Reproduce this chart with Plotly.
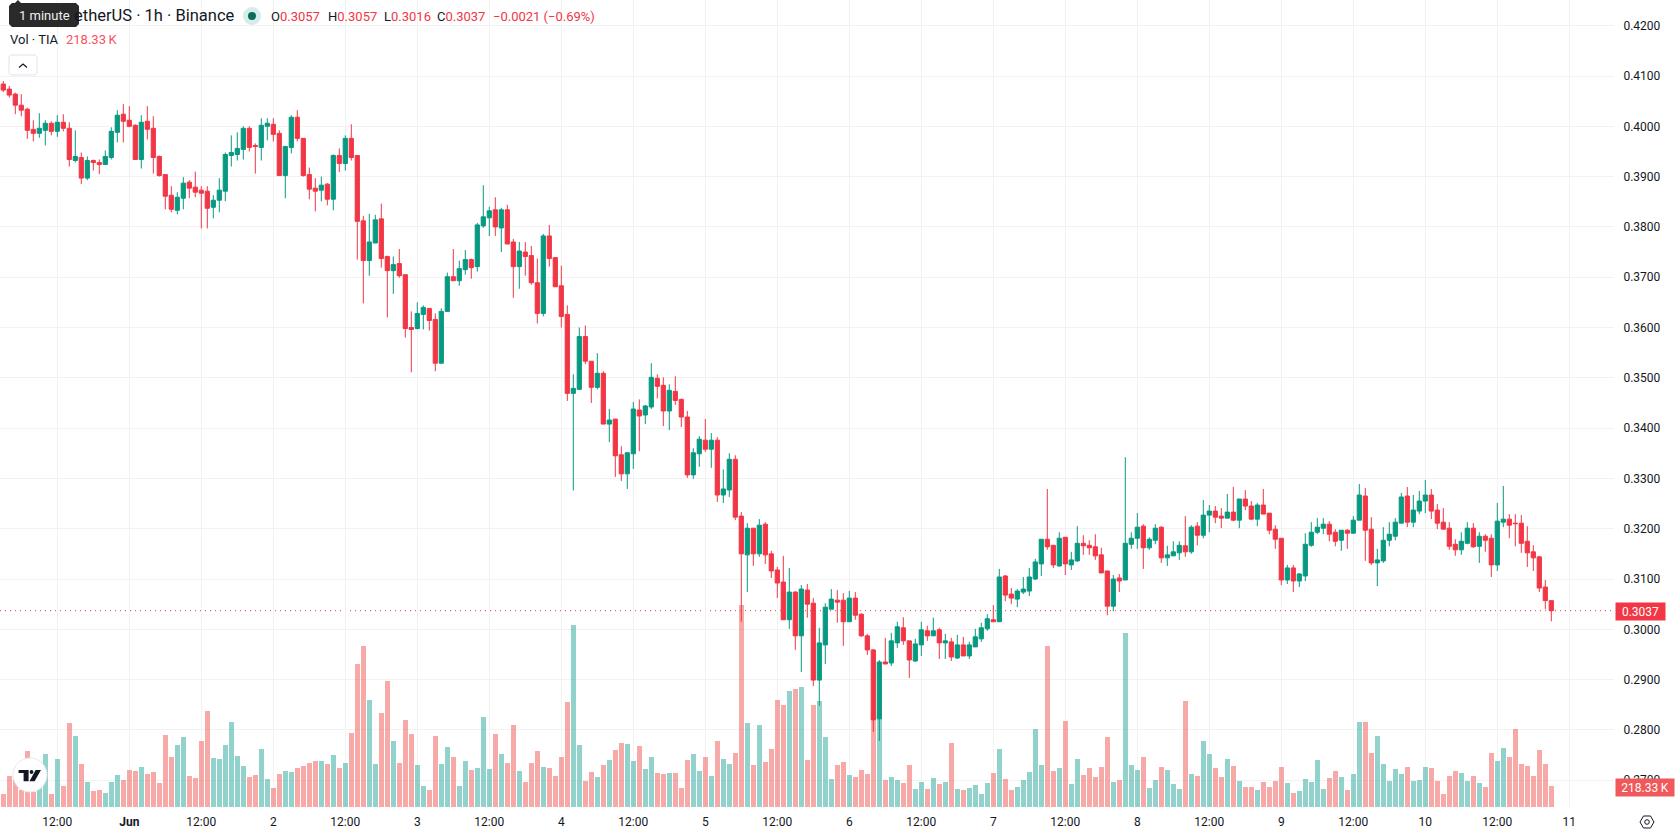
import pandas as pd
import plotly.graph_objects as go

# Hourly TIA/USDT prices, in units of the 0.0001 tick size
TICK_SIZE = 0.0001

open_ticks = [
    4084,4074,4064,4042,4034,3994,3986,3992,4006,3990,
    4008,3996,3932,3938,3897,3932,3928,3924,3938,3988,
    4024,4012,4002,3934,4010,3996,3940,3904,3863,3833,
    3857,3889,3879,3873,3871,3839,3853,3871,3942,3944,
    3954,3996,3962,3958,4000,4004,3986,3902,3958,4018,
    3976,3904,3877,3873,3885,3855,3942,3926,3976,3942,
    3812,3733,3768,3816,3741,3713,3727,3705,3600,3598,
    3626,3638,3616,3529,3632,3701,3693,3715,3735,3721,
    3802,3818,3834,3798,3834,3770,3721,3750,3743,3689,
    3628,3782,3739,3683,3626,3469,3477,3582,3533,3481,
    3509,3408,3418,3347,3309,3349,3436,3426,3442,3499,
    3485,3434,3473,3457,3422,3307,3349,3376,3358,3376,
    3267,3277,3338,3225,3148,3201,3150,3209,3150,3118,
    3094,3019,3074,2987,3078,3052,2899,2969,3040,3058,
    3058,3015,3062,3030,2987,2959,2822,2935,2933,2973,
    3003,2977,2937,2969,2997,2987,2999,2973,2975,2943,
    2969,2947,2965,2981,3001,3019,3015,3106,3070,3060,
    3074,3076,3100,3130,3179,3167,3126,3183,3128,3136,
    3171,3167,3164,3148,3116,3046,3102,3098,3169,3181,
    3205,3162,3177,3203,3142,3146,3152,3166,3154,3205,
    3187,3227,3235,3225,3221,3233,3217,3259,3245,3219,
    3247,3231,3199,3181,3098,3122,3096,3106,3167,3193,
    3201,3209,3193,3177,3197,3191,3217,3265,3199,3132,
    3136,3177,3185,3211,3265,3213,3235,3255,3267,3237,
    3213,3201,3169,3158,3171,3201,3165,3185,3181,3128,
    3213,3219,3211,3211,3175,3154,3144,3084,3057,
]
high_ticks = [
    4090,4080,4067,4064,4037,4012,4026,4012,4010,4022,
    4024,4008,3992,3948,3940,3934,3934,3952,3998,4032,
    4044,4040,4004,4022,4040,4020,3942,3904,3881,3869,
    3899,3893,3910,3881,3881,3863,3897,3948,3982,3988,
    4000,4000,3966,4016,4016,4016,3992,3960,4022,4032,
    3976,3918,3897,3900,3887,3944,3956,3982,4004,3942,
    3822,3826,3824,3846,3743,3741,3756,3705,3632,3650,
    3644,3638,3628,3638,3709,3756,3733,3754,3737,3808,
    3883,3840,3859,3838,3844,3776,3770,3770,3762,3737,
    3786,3804,3739,3723,3644,3507,3600,3604,3533,3549,
    3513,3438,3418,3364,3351,3452,3457,3446,3529,3507,
    3501,3487,3503,3459,3434,3360,3384,3418,3390,3382,
    3318,3350,3346,3233,3211,3201,3219,3213,3156,3124,
    3146,3122,3076,3088,3090,3062,3003,3052,3080,3078,
    3072,3076,3074,3032,2991,2961,2939,2983,2993,3015,
    3024,2977,2981,3015,3007,3023,3003,2991,2983,2989,
    2985,2975,3001,3013,3030,3048,3120,3108,3082,3080,
    3104,3122,3140,3179,3279,3167,3193,3183,3154,3205,
    3187,3177,3189,3162,3116,3108,3110,3342,3193,3231,
    3209,3183,3209,3205,3166,3175,3175,3225,3207,3213,
    3257,3247,3245,3241,3269,3283,3259,3277,3255,3251,
    3279,3231,3207,3181,3128,3128,3112,3191,3213,3221,
    3221,3215,3199,3197,3199,3225,3289,3281,3223,3160,
    3203,3213,3221,3271,3283,3267,3275,3297,3279,3249,
    3241,3213,3179,3193,3213,3211,3193,3189,3189,3251,
    3285,3229,3229,3227,3205,3167,3146,3098,3057,
]
low_ticks = [
    4068,4057,4024,4020,3975,3970,3977,3962,3982,3979,
    3990,3920,3928,3885,3893,3912,3905,3924,3934,3968,
    3968,3998,3934,3916,3974,3906,3900,3835,3829,3825,
    3835,3857,3859,3797,3797,3817,3829,3851,3920,3932,
    3934,3950,3906,3932,3972,3970,3902,3857,3946,3970,
    3900,3855,3831,3851,3843,3833,3909,3912,3932,3735,
    3648,3703,3768,3719,3620,3667,3699,3580,3511,3596,
    3596,3594,3513,3529,3632,3693,3683,3705,3697,3711,
    3798,3782,3782,3750,3766,3659,3677,3703,3685,3608,
    3622,3721,3681,3600,3454,3276,3477,3527,3450,3477,
    3408,3372,3303,3295,3279,3319,3354,3408,3438,3459,
    3404,3396,3446,3402,3301,3299,3323,3353,3321,3253,
    3251,3263,3217,3015,3074,3126,3144,3130,3102,3062,
    3019,3001,2959,2915,3023,2887,2848,2931,3040,3013,
    2967,3015,3019,2985,2949,2796,2778,2931,2927,2963,
    2969,2903,2935,2947,2977,2987,2941,2941,2937,2941,
    2947,2941,2965,2975,2997,3015,3015,3056,3050,3044,
    3070,3066,3098,3106,3158,3122,3124,3108,3118,3134,
    3148,3148,3138,3112,3028,3036,3074,3098,3160,3160,
    3120,3158,3169,3132,3126,3146,3138,3144,3150,3167,
    3181,3193,3211,3201,3221,3215,3201,3237,3217,3205,
    3229,3189,3160,3088,3090,3074,3084,3096,3164,3189,
    3189,3175,3165,3156,3160,3191,3217,3136,3128,3086,
    3132,3165,3177,3211,3203,3203,3229,3231,3219,3199,
    3199,3158,3146,3148,3169,3162,3132,3154,3104,3116,
    3203,3181,3165,3152,3124,3116,3074,3040,3016,
]
close_ticks = [
    4072,4062,4042,4032,3992,3986,3996,4006,3990,4008,
    3996,3934,3940,3897,3932,3928,3924,3940,3990,4022,
    4010,4000,3934,4008,3994,3938,3902,3861,3835,3859,
    3887,3877,3869,3867,3837,3853,3873,3944,3948,3956,
    3996,3958,3960,4002,4006,3984,3902,3960,4018,3976,
    3902,3875,3871,3883,3855,3942,3926,3976,3938,3811,
    3733,3770,3814,3737,3713,3725,3703,3598,3596,3628,
    3640,3614,3529,3632,3701,3693,3717,3735,3719,3804,
    3820,3832,3800,3834,3766,3721,3752,3741,3689,3628,
    3782,3737,3681,3622,3469,3479,3582,3533,3481,3509,
    3408,3416,3345,3309,3351,3438,3424,3444,3501,3483,
    3434,3475,3455,3422,3307,3351,3378,3358,3376,3267,
    3279,3338,3223,3150,3201,3150,3207,3148,3116,3092,
    3019,3074,2987,3080,3050,2899,2973,3044,3060,3054,
    3015,3062,3028,2987,2959,2820,2935,2931,2977,3005,
    2977,2939,2971,2999,2987,2997,2973,2977,2945,2969,
    2947,2969,2985,3003,3021,3015,3104,3068,3062,3076,
    3080,3104,3134,3179,3164,3128,3181,3130,3138,3171,
    3166,3162,3146,3112,3046,3100,3096,3171,3181,3203,
    3162,3179,3201,3142,3148,3154,3167,3154,3203,3187,
    3227,3235,3223,3221,3233,3217,3259,3245,3219,3247,
    3229,3197,3179,3098,3122,3096,3110,3169,3193,3203,
    3209,3189,3175,3197,3191,3217,3267,3197,3132,3138,
    3177,3189,3213,3263,3213,3237,3255,3267,3235,3211,
    3199,3165,3158,3175,3201,3164,3185,3177,3128,3215,
    3219,3207,3210,3171,3152,3142,3082,3057,3037,
]
# Volume per hour, thousands of TIA
volume_k = [
    135,322,281,177,582,156,333,551,135,499,
    218,873,738,447,260,166,177,146,260,333,
    281,385,374,416,343,364,250,749,520,645,
    728,322,302,686,998,510,499,645,884,530,
    426,312,333,603,291,198,343,374,364,406,
    426,458,478,478,447,541,406,458,769,1487,
    1674,1113,447,977,1310,686,458,905,759,437,
    218,177,738,447,624,520,218,478,385,406,
    936,395,759,551,458,853,374,260,458,582,
    416,406,322,520,1092,1892,645,270,364,312,
    437,489,593,665,655,478,634,395,520,354,
    343,354,354,198,489,551,374,520,322,686,
    499,447,561,2100,873,437,853,468,603,1113,
    1061,1206,1227,1248,489,1061,1102,728,291,437,
    468,333,312,385,343,974,974,281,312,281,
    250,437,187,260,187,302,239,260,665,187,
    177,198,229,135,250,354,603,291,177,208,
    281,364,811,437,1674,374,406,894,239,499,
    333,406,312,416,728,260,281,1809,437,385,
    520,198,281,416,385,239,187,1102,343,322,
    686,551,406,312,499,426,270,208,208,177,
    260,208,270,416,250,146,166,291,260,489,
    187,302,374,312,177,343,884,884,561,738,
    447,270,395,343,416,270,281,416,406,270,
    135,322,374,354,270,322,250,208,561,478,
    613,520,811,447,426,322,593,447,218.33,
]

first_bar = pd.Timestamp("2026-05-31 03:00")
times = pd.date_range(first_bar, periods=len(close_ticks), freq="h")

axis_labels = ["12:00", "<b>Jun</b>", "12:00", "2", "12:00", "3", "12:00", "4", "12:00", "5", "12:00",
               "6", "12:00", "7", "12:00", "8", "12:00", "9", "12:00", "10", "12:00", "11"]
axis_ticks = pd.date_range("2026-05-31 12:00", periods=len(axis_labels), freq="12h")

opens = [v * TICK_SIZE for v in open_ticks]
highs = [v * TICK_SIZE for v in high_ticks]
lows = [v * TICK_SIZE for v in low_ticks]
closes = [v * TICK_SIZE for v in close_ticks]

UP = "#089981"
DOWN = "#F23645"
UP_VOL = "rgba(38,166,154,0.5)"
DOWN_VOL = "rgba(239,83,80,0.5)"
GRID = "#F2F2F2"
INK = "#131722"
FONT = "Roboto, sans-serif"

# Pane geometry, in page pixels
PANE_W, PANE_H = 1614, 807
HOUR_PX = 6.0
JUN1_PX = 129.3


def xfrac(px):
    return px / PANE_W


def yfrac(px):
    return 1 - px / PANE_H


def path(points, close=True):
    body = " L".join(f"{xfrac(x):.5f},{yfrac(y):.5f}" for x, y in points)
    return "M" + body + (" Z" if close else "")


def note(x, y, text, size=13, color=INK, anchor="left", **kw):
    return dict(xref="paper", yref="paper", x=xfrac(x), y=yfrac(y), text=text, showarrow=False,
                xanchor=anchor, yanchor="middle", font=dict(family=FONT, size=size, color=color), **kw)


jun1 = pd.Timestamp("2026-06-01 00:00")
x_start = jun1 - pd.Timedelta(hours=JUN1_PX / HOUR_PX)
x_end = jun1 + pd.Timedelta(hours=(PANE_W - JUN1_PX) / HOUR_PX)

# Price scale: 0.30 sits at 629.3 px, 0.01 spans 50.3 px
price_at = lambda px: 0.30 + (629.3 - px) / 5030
vol_per_px = 218.33 / 21

fig = go.Figure()
fig.add_bar(
    x=times, y=volume_k, yaxis="y",
    marker=dict(color=[UP_VOL if c >= o else DOWN_VOL for o, c in zip(open_ticks, close_ticks)], line_width=0),
    width=3600 * 1000 * 0.8, showlegend=False, hoverinfo="skip",
)
fig.add_candlestick(
    x=times, open=opens, high=highs, low=lows, close=closes, yaxis="y2",
    increasing=dict(line=dict(color=UP, width=1), fillcolor=UP),
    decreasing=dict(line=dict(color=DOWN, width=1), fillcolor=DOWN),
    whiskerwidth=0, showlegend=False,
)

shapes = [
    # last-price marker line
    dict(type="line", xref="paper", yref="y2", x0=0, x1=1, y0=closes[-1], y1=closes[-1], layer="below",
         line=dict(color=DOWN, width=1, dash="1px,4px")),
    # "1 minute" tooltip body with its small pointer
    dict(type="path", xref="paper", yref="paper", fillcolor="#2A2A2A", line_width=0,
         path=path([(12, 3), (15, 3), (18, 0), (21, 3), (76, 3), (79, 6), (79, 24), (76, 27),
                    (12, 27), (9, 24), (9, 6)])),
    # market status dot
    dict(type="circle", xref="paper", yref="paper", x0=xfrac(243), x1=xfrac(261), y0=yfrac(25), y1=yfrac(7),
         fillcolor="#D5ECE8", line_width=0),
    dict(type="circle", xref="paper", yref="paper", x0=xfrac(248), x1=xfrac(256), y0=yfrac(20), y1=yfrac(12),
         fillcolor="#0B6B5D", line_width=0),
    # collapse-legend button
    dict(type="path", xref="paper", yref="paper", fillcolor="white", line=dict(color="#E0E3EB", width=1),
         path=path([(11, 55), (35, 55), (37, 57), (37, 73), (35, 75), (11, 75), (9, 73), (9, 57)])),
    dict(type="path", xref="paper", yref="paper", line=dict(color=INK, width=1.2),
         path=path([(19, 67.5), (23, 64), (27, 67.5)], close=False)),
    # watermark badge
    dict(type="circle", xref="paper", yref="paper", x0=xfrac(13), x1=xfrac(47), y0=yfrac(792), y1=yfrac(758),
         fillcolor="white", line=dict(color="#E8E8E8", width=1)),
    dict(type="path", xref="paper", yref="paper", fillcolor="#131722", line_width=0,
         path=path([(18.6, 770), (28.6, 770), (28.6, 781.3), (23.6, 781.3), (23.6, 773), (18.6, 773)])),
    dict(type="circle", xref="paper", yref="paper", x0=xfrac(29.6), x1=xfrac(33.4), y0=yfrac(773.9), y1=yfrac(770.1),
         fillcolor="#131722", line_width=0),
    dict(type="path", xref="paper", yref="paper", fillcolor="#131722", line_width=0,
         path=path([(35.7, 770), (41, 770), (34.6, 781.3), (29.4, 781.3)])),
    # settings hexagon in the corner
    dict(type="path", xref="paper", yref="paper", line=dict(color=INK, width=1),
         path=path([(1640, 822), (1643.5, 816), (1650.5, 816), (1654, 822), (1650.5, 828), (1643.5, 828)])),
    dict(type="circle", xref="paper", yref="paper", x0=xfrac(1644.7), x1=xfrac(1649.3), y0=yfrac(824.3), y1=yfrac(819.7),
         line=dict(color=INK, width=1)),
]

annotations = [
    note(237, 16, "etherUS · 1h · Binance", size=16.5, anchor="right"),
    note(44, 15.5, "1 minute", size=13, color="#F0F0F0", anchor="center"),
    note(269, 16.5, f'O<span style="color:{DOWN}">{opens[-1]:.4f}</span>'),
    note(326, 16.5, f'H<span style="color:{DOWN}">{highs[-1]:.4f}</span>'),
    note(382, 16.5, f'L<span style="color:{DOWN}">{lows[-1]:.4f}</span>'),
    note(435, 16.5, f'C<span style="color:{DOWN}">{closes[-1]:.4f}</span>'),
    note(491, 16.5, "\u22120.0021 (\u22120.69%)", color=DOWN),
    note(8, 40, "Vol · TIA"),
    note(64, 40, f"{volume_k[-1]:.2f}\u2009K", color="#F7525F"),
    # last-value tags on the price scale
    dict(xref="paper", yref="y2", x=xfrac(1615), y=closes[-1], yshift=-1, text=f"{closes[-1]:.4f}", showarrow=False,
         xanchor="left", yanchor="middle", width=47, height=15, bgcolor=DOWN, align="center",
         font=dict(family=FONT, size=12, color="white")),
    dict(xref="paper", yref="y", x=xfrac(1615), y=volume_k[-1], yshift=-1, text=f"{volume_k[-1]:.2f}\u2009K", showarrow=False,
         xanchor="left", yanchor="middle", width=56, height=15, bgcolor="#F0585C", align="center",
         font=dict(family=FONT, size=12, color="white")),
]

fig.update_layout(
    width=1678, height=835,
    margin=dict(l=0, r=1678 - PANE_W, t=0, b=835 - PANE_H, autoexpand=False),
    paper_bgcolor="white", plot_bgcolor="white",
    bargap=0, boxgap=0.3, boxgroupgap=0,
    font=dict(family=FONT, size=12, color=INK),
    shapes=shapes, annotations=annotations, showlegend=False,
    xaxis=dict(
        type="date", range=[x_start, x_end], rangeslider=dict(visible=False),
        tickmode="array", tickvals=list(axis_ticks), ticktext=axis_labels,
        showgrid=True, gridcolor=GRID, gridwidth=1, zeroline=False, showline=False,
        ticks="outside", ticklen=4, tickcolor="rgba(0,0,0,0)", tickangle=0,
    ),
    yaxis=dict(range=[0, PANE_H * vol_per_px], visible=False, fixedrange=True),
    yaxis2=dict(
        overlaying="y", side="right", range=[price_at(PANE_H), price_at(0)],
        tickmode="linear", tick0=0.0, dtick=0.01, tickformat=".4f",
        showgrid=True, gridcolor=GRID, gridwidth=1, zeroline=False, showline=False,
        ticks="outside", ticklen=6, tickcolor="rgba(0,0,0,0)",
    ),
)

fig.write_html("out.html", config=dict(displayModeBar=False))
